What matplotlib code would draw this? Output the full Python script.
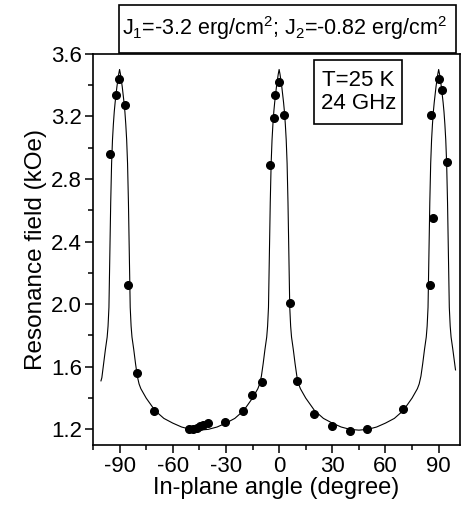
"""In-plane angular dependence of the resonance field, T=25 K, 24 GHz"""

import matplotlib
matplotlib.use("Agg")
import matplotlib.pyplot as plt
from matplotlib.patches import Rectangle
from matplotlib.ticker import MultipleLocator

plt.rcParams["font.family"] = ["Liberation Sans", "DejaVu Sans"]
plt.rcParams["mathtext.fontset"] = "custom"
plt.rcParams["mathtext.rm"] = "Liberation Sans"
plt.rcParams["mathtext.it"] = "Liberation Sans:italic"
plt.rcParams["axes.unicode_minus"] = False

# measured points (degree, kOe)
angle = [-95.2, -92.1, -90.1, -86.9, -85.0, -80.3, -70.3,
         -50.6, -48.7, -46.4, -44.6, -42.7, -40.4, -30.5, -20.3, -15.2, -9.9,
         -4.9, -2.8, -2.1, 0.2, 3.0, 6.2, 10.0, 19.9, 29.9, 39.9, 49.8, 69.9,
         85.0, 86.9, 85.7, 90.3, 91.9, 94.9]
field = [2.96, 3.34, 3.44, 3.27, 2.12, 1.56, 1.32,
         1.20, 1.20, 1.21, 1.22, 1.23, 1.24, 1.25, 1.32, 1.42, 1.50,
         2.89, 3.19, 3.34, 3.42, 3.21, 2.01, 1.51, 1.30, 1.22, 1.19, 1.20, 1.33,
         2.12, 2.55, 3.21, 3.44, 3.37, 2.91]

# fitted curve
fit_angle = [-100.5, -100, -99, -98, -97, -96.5, -96, -95.5, -95, -94.5, -94,
             -93.5, -93, -92.5, -92, -91.5, -91, -90.5, -90, -89.5, -89, -88.5,
             -88, -87.5, -87, -86.5, -86, -85.5, -85, -84.5, -84, -83.5, -83,
             -82, -81, -80, -79, -78, -75, -70, -65, -60, -55, -50, -45, -40,
             -35, -30, -25, -20, -15, -12, -11, -10, -9, -8, -7, -6.5, -6, -5.5,
             -5, -4.5, -4, -3.5, -3, -2.5, -2, -1.5, -1, -0.5, 0, 0.5, 1, 1.5, 2,
             2.5, 3, 3.5, 4, 4.5, 5, 5.5, 6, 6.5, 7, 8, 9, 10, 11, 12, 15, 20, 25,
             30, 35, 40, 45, 50, 55, 60, 65, 70, 75, 78, 79, 80, 81, 82, 83, 83.5,
             84, 84.5, 85, 85.5, 86, 86.5, 87, 87.5, 88, 88.5, 89, 89.5, 90, 90.5,
             91, 91.5, 92, 92.5, 93, 93.5, 94, 94.5, 95, 95.5, 96, 96.5, 97, 98,
             99, 99.5]
fit_field = [1.51, 1.53, 1.62, 1.71, 1.79, 1.86, 1.98, 2.32, 2.65, 2.90, 3.05,
             3.15, 3.23, 3.29, 3.34, 3.39, 3.43, 3.47, 3.50, 3.47, 3.43, 3.39,
             3.34, 3.29, 3.23, 3.15, 3.05, 2.90, 2.65, 2.32, 1.98, 1.86, 1.79,
             1.71, 1.62, 1.54, 1.49, 1.46, 1.40, 1.32, 1.27, 1.24, 1.215, 1.20,
             1.195, 1.20, 1.215, 1.24, 1.27, 1.32, 1.40, 1.46, 1.49, 1.54, 1.62,
             1.71, 1.79, 1.86, 1.98, 2.32, 2.65, 2.90, 3.05, 3.15, 3.23, 3.29,
             3.34, 3.39, 3.43, 3.47, 3.50, 3.47, 3.43, 3.39, 3.34, 3.29, 3.23,
             3.15, 3.05, 2.90, 2.65, 2.32, 1.98, 1.86, 1.79, 1.71, 1.62, 1.54,
             1.49, 1.46, 1.40, 1.32, 1.27, 1.24, 1.215, 1.20, 1.195, 1.20, 1.215,
             1.24, 1.27, 1.32, 1.40, 1.46, 1.49, 1.54, 1.62, 1.71, 1.79, 1.86,
             1.98, 2.32, 2.65, 2.90, 3.05, 3.15, 3.23, 3.29, 3.34, 3.39, 3.43,
             3.47, 3.50, 3.47, 3.43, 3.39, 3.34, 3.29, 3.23, 3.15, 3.05, 2.90,
             2.65, 2.32, 1.98, 1.86, 1.79, 1.71, 1.62, 1.58]

xticks = [-90, -60, -30, 0, 30, 60, 90]
yticks = [1.2, 1.6, 2.0, 2.4, 2.8, 3.2, 3.6]

fig = plt.figure(figsize=(4.61, 5.08), dpi=100)
ax = fig.add_axes([0.2017, 0.124, 0.796, 0.770])

ax.plot(fit_angle, fit_field, color="black", lw=0.8)
ax.plot(angle, field, "o", color="black", ms=5.5)

ax.set_xlim(-105, 102)
ax.set_ylim(1.1, 3.6)
ax.set_xticks(xticks)
ax.set_yticks(yticks)
ax.set_yticklabels([f"{v:.1f}" for v in yticks])
ax.xaxis.set_minor_locator(MultipleLocator(15))
ax.yaxis.set_minor_locator(MultipleLocator(0.2))
ax.tick_params(which="both", direction="out", width=1.1, labelsize=16, pad=2)
ax.tick_params(which="major", length=6)
ax.tick_params(which="minor", length=3.5)
for s in ax.spines.values():
    s.set_linewidth(1.2)

ax.set_xlabel("In-plane angle (degree)", fontsize=17, labelpad=0)
ax.set_ylabel("Resonance field (kOe)", fontsize=17.5, labelpad=3)

# legend-like boxes
fig.patches.append(Rectangle((0.2592, 0.8947), 0.7293, 0.0953, transform=fig.transFigure,
                             fill=False, edgecolor="black", lw=1.2))
fig.text(0.618, 0.944, r"J$_1$=-3.2 erg/cm$^2$; J$_2$=-0.82 erg/cm$^2$",
         fontsize=15.5, ha="center", va="center")

ax.add_patch(Rectangle((0.603, 0.820), 0.240, 0.165, transform=ax.transAxes,
                       fill=False, edgecolor="black", lw=1.2))
ax.text(0.723, 0.903, "T=25 K\n24 GHz", transform=ax.transAxes, fontsize=16,
        ha="center", va="center", linespacing=1.1)

fig.savefig("out.png", dpi=100)
